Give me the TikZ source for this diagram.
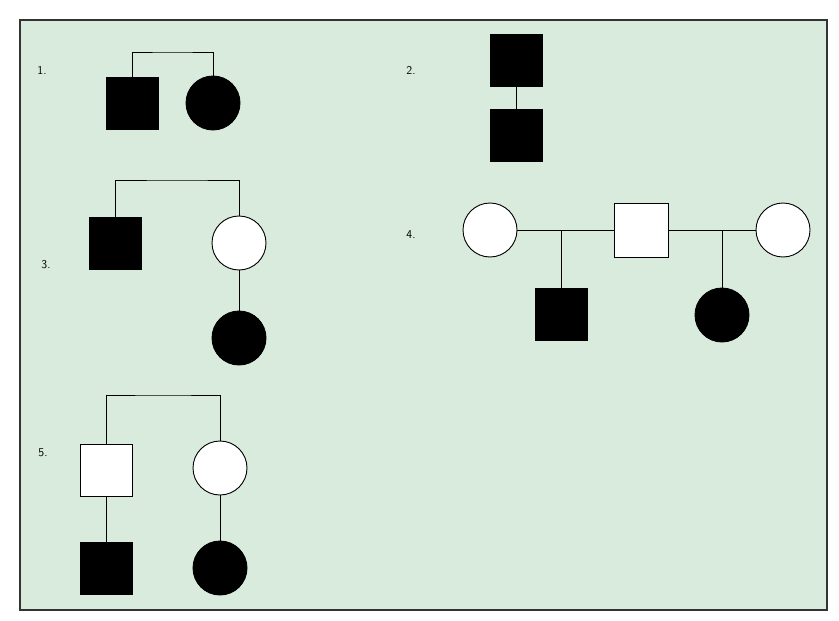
\documentclass[tikz,border=0pt]{standalone}
\usepackage{tikz}
\usetikzlibrary{positioning}
\definecolor{pedbg}{RGB}{216,235,220}
\begin{document}
\begin{tikzpicture}[x=1pt,y=-1pt,line width=0.9pt,
		male/.style={rectangle,draw,minimum size=52,inner sep=0},
		female/.style={circle,draw,minimum size=54,inner sep=0},
		aff/.style={fill=black},
		unaff/.style={fill=white},
		num/.style={font=\sffamily\large}]
		\useasboundingbox (0,0) rectangle (839,621);
		\draw[fill=pedbg,line width=1.4pt,draw=black!80] (20,20) rectangle (827,610);
		% 1.
		\node[num] (n1) at (42,70) {1.};
		\node[male,aff] (a1) at (132,103) {};
		\node[female,aff] (a2) at (213,103) {};
		\draw (a1.north) |- (172,52) -| (a2.north);
		% 2.
		\node[num] (n2) at (411,70) {2.};
		\node[male,aff] (b1) at (516,60) {};
		\node[male,aff] (b2) at (516,135) {};
		\draw (b1) -- (b2);
		% 3.
		\node[num] (n3) at (46,265) {3.};
		\node[male,aff] (c1) at (115,243) {};
		\node[female,unaff] (c2) at (239,243) {};
		\node[female,aff] (c3) at (239,338) {};
		\draw (c1.north) |- (177,180) -| (c2.north);
		\draw (c2) -- (c3);
		% 4.
		\node[num] (n4) at (411,235) {4.};
		\node[female,unaff] (d1) at (490,230) {};
		\node[male,unaff,minimum size=54] (d2) at (641,230) {};
		\node[female,unaff] (d3) at (783,230) {};
		\node[male,aff] (d4) at (561,314) {};
		\node[female,aff] (d5) at (722,315) {};
		\draw (d1) -- (d2) -- (d3);
		\draw (d4.north) -- (561,230);
		\draw (d5.north) -- (722,230);
		% 5.
		\node[num] (n5) at (43,453) {5.};
		\node[male,unaff] (e1) at (106,470) {};
		\node[female,unaff] (e2) at (220,468) {};
		\node[male,aff] (e3) at (106,568) {};
		\node[female,aff] (e4) at (220,568) {};
		\draw (e1.north) |- (163,395) -| (e2.north);
		\draw (e1) -- (e3);
		\draw (e2) -- (e4);
	\end{tikzpicture}
\end{document}
